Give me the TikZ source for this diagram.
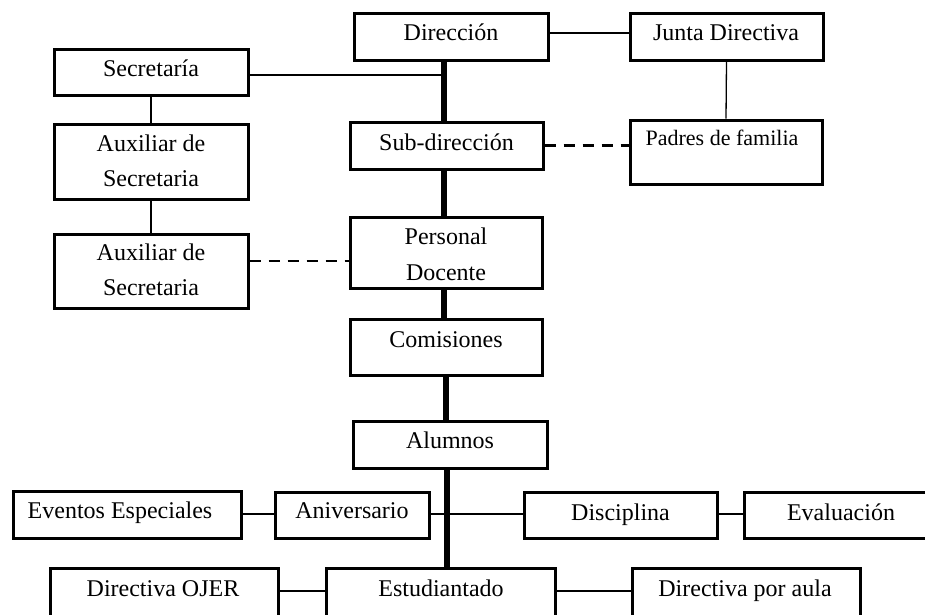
\documentclass[tikz,border=0pt]{standalone}
\usepackage{fontspec}
\setmainfont{Liberation Serif}
\newcommand\chartfs{\fontsize{24}{28}\selectfont}
\newcommand\chartsmallfs{\fontsize{22}{26}\selectfont}
\tikzset{
  box/.style={draw, line width=3pt, fill=white, inner sep=0pt},
  txt/.style={font=\chartfs, anchor=base, inner sep=0pt},
  thinline/.style={line width=1.3pt},
  trunk/.style={line width=5.5pt},
  dashline/.style={line width=2.6pt, dash pattern=on 11pt off 8pt},
}
\begin{document}
\begin{tikzpicture}[x=1pt,y=-1pt]
\useasboundingbox (0,0) rectangle (925,614);
\clip (0,0) rectangle (925,614);
\coordinate (tk) at (444,0);
\coordinate (tk2) at (446,0);
\coordinate (ytop) at (0,33);
\coordinate (ysec) at (0,75);
\coordinate (yaux) at (0,261);
\coordinate (yrow) at (0,514);
\coordinate (ybot) at (0,591);
% boxes
\node[box, minimum width=194pt, minimum height=47pt] (dir) at (451,36.5) {};
\node[box, minimum width=193pt, minimum height=47pt] (junta) at (726.5,36.5) {};
\node[box, minimum width=194pt, minimum height=46pt] (sec) at (151,72) {};
\node[box, minimum width=194pt, minimum height=75pt] (aux1) at (151,161.5) {};
\node[box, minimum width=194pt, minimum height=74pt] (aux2) at (151,271) {};
\node[box, minimum width=193pt, minimum height=47pt] (sub) at (446.5,145.5) {};
\node[box, minimum width=192pt, minimum height=64pt] (padres) at (726,152) {};
\node[box, minimum width=192pt, minimum height=71pt] (pers) at (446,252.5) {};
\node[box, minimum width=192pt, minimum height=56pt] (com) at (446,347) {};
\node[box, minimum width=194pt, minimum height=47pt] (alum) at (450,444.5) {};
\node[box, minimum width=228pt, minimum height=47pt] (evt) at (127,514.5) {};
\node[box, minimum width=154pt, minimum height=46pt] (aniv) at (352,515) {};
\node[box, minimum width=193pt, minimum height=46pt] (disc) at (620.5,515) {};
\node[box, minimum width=201pt, minimum height=46pt] (eval) at (844.5,515) {};
\node[box, minimum width=228pt, minimum height=72pt] (ojer) at (164,604) {};
\node[box, minimum width=229pt, minimum height=72pt] (est) at (440.5,604) {};
\node[box, minimum width=228pt, minimum height=72pt] (aula) at (746,604) {};
% texts
\node[txt] (tdir) at (451,40) {Dirección};
\node[txt] (tjunta) at (726,40) {Junta Directiva};
\node[txt] (tsec) at (151,76) {Secretaría};
\node[txt] (taux1a) at (151,151) {Auxiliar de};
\node[txt] (taux1b) at (151,186) {Secretaria};
\node[txt] (taux2a) at (151,260) {Auxiliar de};
\node[txt] (taux2b) at (151,295) {Secretaria};
\node[txt] (tsub) at (446.5,150) {Sub-dirección};
\node[txt, font=\chartsmallfs] (tpadres) at (722,145) {Padres de familia};
\node[txt] (tpersa) at (446,244) {Personal};
\node[txt] (tpersb) at (446,280) {Docente};
\node[txt] (tcom) at (446,347) {Comisiones};
\node[txt] (talum) at (450,448) {Alumnos};
\node[txt] (tevt) at (120,518) {Eventos Especiales};
\node[txt] (taniv) at (352,518) {Aniversario};
\node[txt] (tdisc) at (620.5,520) {Disciplina};
\node[txt] (teval) at (841,520) {Evaluación};
\node[txt] (tojer) at (163,596) {Directiva OJER};
\node[txt] (test) at (441,596) {Estudiantado};
\node[txt] (taula) at (745,596) {Directiva por aula};
% connectors
\draw[thinline] (dir.east |- ytop) -- (junta.west |- ytop);
\draw[thinline] (sec.east |- ysec) -- (tk |- ysec);
\draw[thinline] (sec.south) -- (aux1.north);
\draw[thinline] (aux1.south) -- (aux2.north);
\draw[thinline] (junta.south) -- (padres.north);
\draw[dashline] (sub.east) -- (sub.east -| padres.west);
\draw[dashline] (aux2.east |- yaux) -- (pers.west |- yaux);
\draw[thinline] (evt.east |- yrow) -- (aniv.west |- yrow);
\draw[thinline] (aniv.east |- yrow) -- (disc.west |- yrow);
\draw[thinline] (disc.east |- yrow) -- (eval.west |- yrow);
\draw[thinline] (ojer.east |- ybot) -- (est.west |- ybot);
\draw[thinline] (est.east |- ybot) -- (aula.west |- ybot);
% trunk
\draw[trunk] (dir.south -| tk) -- (sub.north -| tk);
\draw[trunk] (sub.south -| tk) -- (pers.north -| tk);
\draw[trunk] (pers.south -| tk) -- (com.north -| tk);
\draw[trunk] (com.south -| tk2) -- (alum.north -| tk2);
\draw[trunk] ([xshift=1pt]alum.south -| tk2) -- ([xshift=1pt]est.north -| tk2);
\end{tikzpicture}
\end{document}
